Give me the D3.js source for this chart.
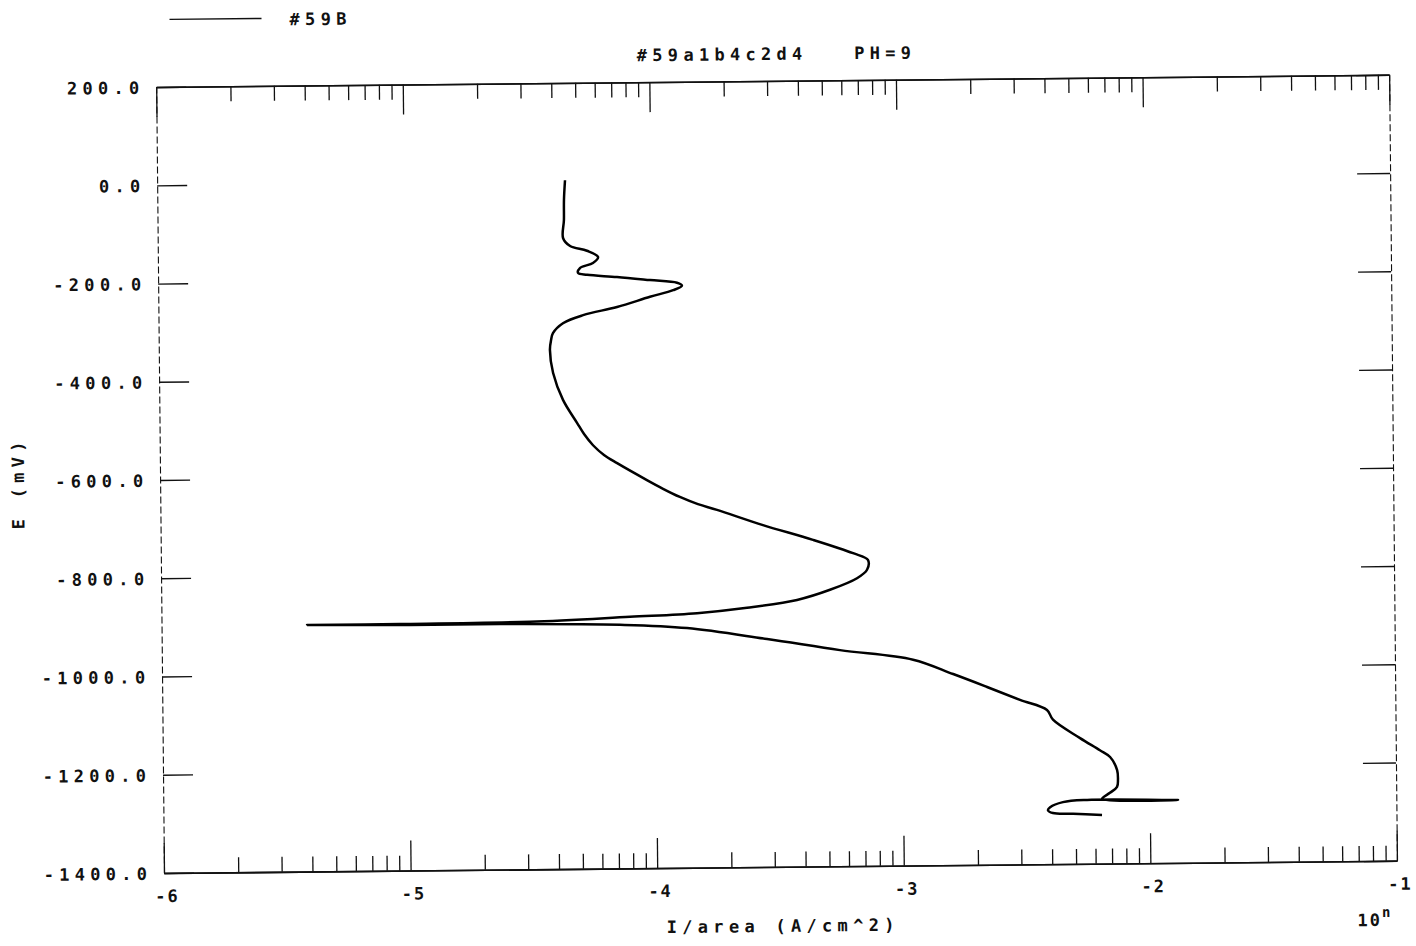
<!DOCTYPE html>
<html>
<head>
<meta charset="utf-8">
<script src="https://cdn.jsdelivr.net/npm/d3@7"></script>
<style>
  body { margin: 0; background: #fff; }
  text { font-family: "DejaVu Sans Mono", monospace; font-weight: bold; font-size: 17px; fill: #111; }
</style>
</head>
<body>
<svg width="1416" height="946"></svg>
<script>
// polarisation scan: log10(I/area) against E
var logI = [-2.194, -2.311, -2.393, -2.413, -2.404, -2.352, -2.254, -1.885, -2.193, -2.161,
            -2.132, -2.128, -2.131, -2.159, -2.200, -2.280, -2.389, -2.413, -2.522, -2.655,
            -2.792, -2.954, -3.250, -3.545, -3.869, -4.141, -4.627, -5.033, -5.410, -5.033,
            -4.506, -4.100, -3.828, -3.625, -3.422, -3.288, -3.178, -3.137, -3.133, -3.193,
            -3.355, -3.557, -3.743, -3.820, -3.893, -3.961, -4.026, -4.146, -4.199, -4.243,
            -4.279, -4.307, -4.363, -4.402,
            -4.414, -4.409, -4.401, -4.360, -4.278, -4.140, -4.006, -3.912, -3.876, -3.896,
            -4.005, -4.139, -4.260, -4.297, -4.289, -4.236, -4.215, -4.260, -4.328, -4.356,
            -4.352, -4.351, -4.346];
var potential = [-1301, -1298, -1296, -1290, -1284, -1274, -1270, -1272, -1268, -1256,
                 -1244, -1230, -1210, -1183, -1169, -1144, -1106, -1086, -1065, -1038,
                 -1011, -981, -960, -936, -912, -904, -900, -900, -898, -898,
                 -896, -888, -882, -872, -857, -837, -814, -797, -777, -763,
                 -735, -704, -672, -660, -645, -628, -610, -575, -558, -538,
                 -515, -492, -445, -390,
                 -343, -323, -309, -289, -273, -257, -237, -224, -215, -209,
                 -203, -196, -191, -187, -177, -167, -155, -142, -132, -116,
                 -79, -38, 2];
var decades = [-6, -5, -4, -3, -2, -1];
var eTicks = [200, 0, -200, -400, -600, -800, -1000, -1200, -1400];

var pLeft = 164, pRight = 1397, pTop = 87, pBottom = 873;
var ls = 5.3; // plotter-style letter spacing

var svg = d3.select('svg');
// the scanned sheet is a little skewed
var g = svg.append('g').attr('transform', 'rotate(-0.57,' + pLeft + ',' + pBottom + ')');

var x = d3.scaleLinear().domain([-6, -1]).range([pLeft, pRight]);
var y = d3.scaleLinear().domain([-1400, 200]).range([pBottom, pTop]);

var minor = [];
decades.slice(0, -1).forEach(function(d) {
	for (var k = 2; k < 10; k++) minor.push(d + Math.log10(k));
});

function styleAxis(a, dashed) {
	a.selectAll('line').attr('stroke', '#111').attr('stroke-width', 1.3);
	a.select('.domain').attr('stroke', '#111').attr('stroke-width', dashed ? 1.1 : 1.6)
		.attr('stroke-dasharray', dashed ? '7,3' : null);
	a.selectAll('text').attr('letter-spacing', ls);
}

// bottom
var bx = g.append('g').attr('transform', 'translate(0,' + pBottom + ')')
	.call(d3.axisBottom(x).tickValues(decades).tickSize(-30).tickSizeOuter(0)
		.tickPadding(17).tickFormat(function(d) { return d; }));
styleAxis(bx, false);
bx.selectAll('text').attr('dx', ls / 2).attr('letter-spacing', 2);
var bm = g.append('g').attr('transform', 'translate(0,' + pBottom + ')')
	.call(d3.axisBottom(x).tickValues(minor).tickSize(-15).tickSizeOuter(0).tickFormat(''));
styleAxis(bm, false);

// top
var tx = g.append('g').attr('transform', 'translate(0,' + pTop + ')')
	.call(d3.axisTop(x).tickValues(decades).tickSize(-30).tickSizeOuter(0).tickFormat(''));
styleAxis(tx, false);
var tm = g.append('g').attr('transform', 'translate(0,' + pTop + ')')
	.call(d3.axisTop(x).tickValues(minor).tickSize(-15).tickSizeOuter(0).tickFormat(''));
styleAxis(tm, false);

// left
var ly = g.append('g').attr('transform', 'translate(' + pLeft + ',0)')
	.call(d3.axisLeft(y).tickValues(eTicks).tickSize(-30).tickSizeOuter(0)
		.tickPadding(17).tickFormat(function(d) { return d.toFixed(1); }));
styleAxis(ly, true);
ly.selectAll('text').attr('dx', ls).attr('dy', '0.36em');

// right
var ry = g.append('g').attr('transform', 'translate(' + pRight + ',0)')
	.call(d3.axisRight(y).tickValues(eTicks).tickSize(-33).tickSizeOuter(0).tickFormat(''));
styleAxis(ry, true);

// curve
var line = d3.line()
	.x(function(i) { return x(logI[i]); })
	.y(function(i) { return y(potential[i]); })
	.curve(d3.curveCatmullRom.alpha(0.5));
g.append('path')
	.attr('d', line(d3.range(logI.length)))
	.attr('fill', 'none')
	.attr('stroke', '#000')
	.attr('stroke-width', 2.5)
	.attr('stroke-linejoin', 'round');

// legend
g.append('line').attr('x1', 178).attr('x2', 270).attr('y1', 19.5).attr('y2', 19.5)
	.attr('stroke', '#111').attr('stroke-width', 1.4);
g.append('text').attr('x', 298).attr('y', 26.5).attr('letter-spacing', ls).text('#59B');

// title
g.append('text').attr('x', 782 + ls / 2).attr('y', 66).attr('text-anchor', 'middle')
	.attr('letter-spacing', ls).style('white-space', 'pre').text('#59a1b4c2d4   PH=9');

// axis titles
g.append('text').attr('x', 780 + ls / 2).attr('y', 938).attr('text-anchor', 'middle')
	.attr('letter-spacing', ls).style('white-space', 'pre').text('I/area (A/cm^2)');
var ten = g.append('text').attr('x', 1357).attr('y', 938).attr('letter-spacing', 2);
ten.append('tspan').text('10');
ten.append('tspan').attr('dy', -9).attr('font-size', '14px').text('n');

g.append('text').attr('transform', 'translate(28,484) rotate(-90)')
	.attr('text-anchor', 'middle').attr('dx', ls / 2)
	.attr('letter-spacing', ls).style('white-space', 'pre').text('E (mV)');
</script>
</body>
</html>
